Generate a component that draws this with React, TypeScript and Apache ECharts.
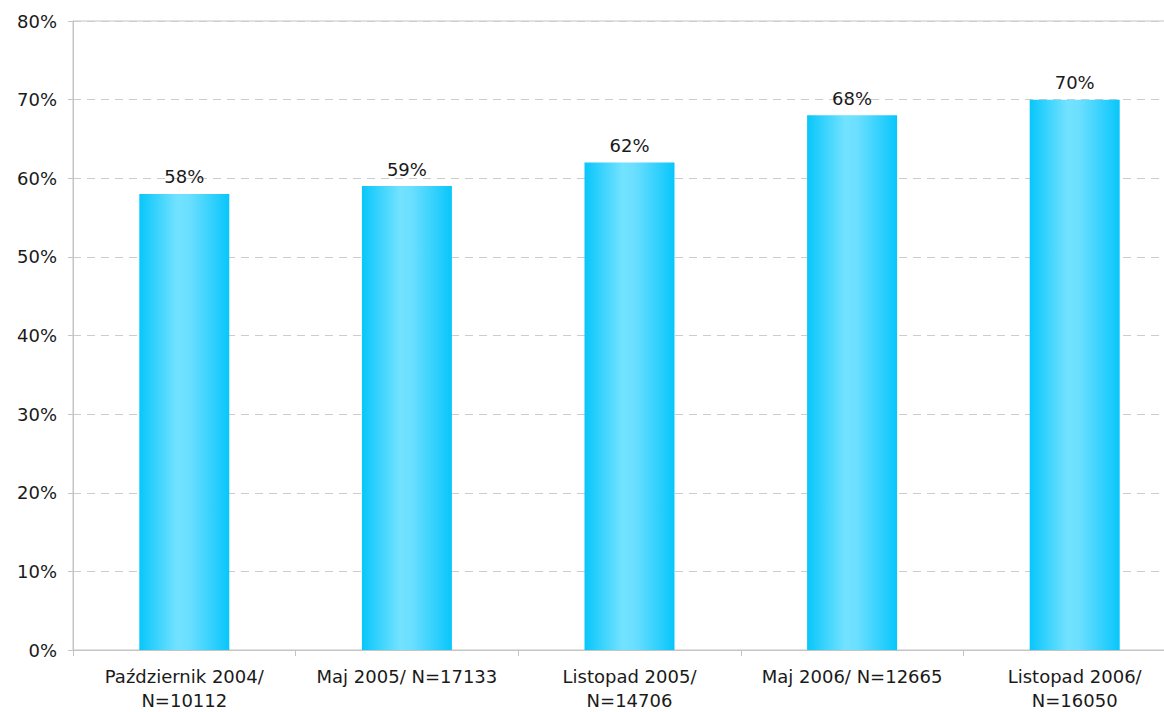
import React, { useEffect, useRef } from "react";
import * as echarts from "echarts";

const categories = [
  "Październik 2004/\nN=10112",
  "Maj 2005/ N=17133",
  "Listopad 2005/\nN=14706",
  "Maj 2006/ N=12665",
  "Listopad 2006/\nN=16050",
];
const values = [58, 59, 62, 68, 70];
const yTicks = [0, 10, 20, 30, 40, 50, 60, 70, 80];

export default function App() {
  const ref = useRef<HTMLDivElement>(null);
  useEffect(() => {
    document.body.style.margin = "0";
    document.body.style.overflow = "hidden";
    document.documentElement.style.overflow = "hidden";
    const chart = echarts.init(ref.current!, null, { renderer: "svg" });
    const font = "DejaVu Sans, Verdana, sans-serif";
    chart.setOption({
      animation: false,
      backgroundColor: "#fff",
      grid: {
        left: 73,
        right: 0,
        top: 21,
        bottom: 62,
        show: true,
        borderColor: "#c4c4c4",
        borderWidth: 1,
      },
      xAxis: {
        type: "category",
        data: categories,
        axisLine: { lineStyle: { color: "#c4c4c4", width: 1 } },
        axisTick: { show: true, length: 6, lineStyle: { color: "#c4c4c4" } },
        axisLabel: {
          color: "#1a1a1a",
          fontFamily: font,
          fontSize: 18,
          lineHeight: 24,
          margin: 14,
          interval: 0,
        },
      },
      yAxis: {
        type: "value",
        min: yTicks[0],
        max: yTicks[yTicks.length - 1],
        interval: 10,
        axisLine: { show: true, lineStyle: { color: "#c4c4c4", width: 1 } },
        axisTick: { show: true, length: 5, lineStyle: { color: "#c4c4c4" } },
        axisLabel: {
          color: "#1a1a1a",
          fontFamily: font,
          fontSize: 18,
          margin: 16,
          formatter: (v: number) => v + "%",
        },
        splitLine: {
          show: true,
          lineStyle: { color: "#cccccc", type: [8, 6], width: 1 },
        },
      },
      series: [
        {
          type: "bar",
          data: values,
          barWidth: 90,
          itemStyle: {
            color: new echarts.graphic.LinearGradient(0, 0, 1, 0, [
              { offset: 0, color: "#08C6FB" },
              { offset: 0.42, color: "#72E2FF" },
              { offset: 0.55, color: "#6CDFFF" },
              { offset: 1, color: "#08C6FB" },
            ]),
          },
          label: {
            show: true,
            position: "top",
            distance: 8,
            color: "#1a1a1a",
            fontFamily: font,
            fontSize: 18,
            formatter: (p: any) => p.value + "%",
          },
        },
      ],
    });
    return () => chart.dispose();
  }, []);
  return <div ref={ref} style={{ width: 1186, height: 712 }} />;
}
